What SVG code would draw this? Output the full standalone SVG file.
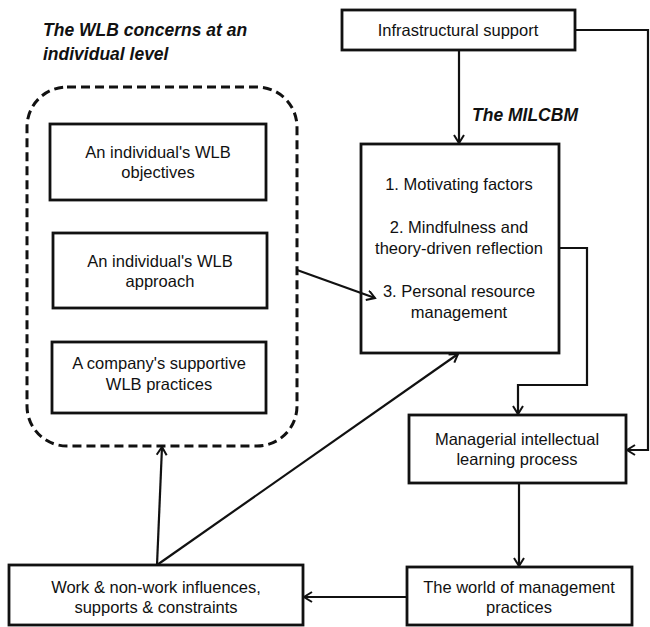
<svg xmlns="http://www.w3.org/2000/svg" width="650" height="627" viewBox="0 0 650 627">
<style>
.box{fill:#fff;stroke:#111;stroke-width:2.8}
.t{font-family:"Liberation Sans",Arial,sans-serif;font-size:16.5px;fill:#111;text-anchor:middle}
.title{font-family:"Liberation Sans",Arial,sans-serif;font-size:17.5px;font-weight:bold;font-style:italic;fill:#111}
.c{fill:none;stroke:#111;stroke-width:2.2}
</style>
<defs>
<marker id="arr" markerUnits="userSpaceOnUse" markerWidth="12" markerHeight="12" refX="9" refY="5.5" orient="auto">
<path d="M1,0.5 L9,5.5 L1,10.5" fill="none" stroke="#111" stroke-width="2"/>
</marker>
</defs>
<rect width="650" height="627" fill="#fff"/>
<text class="title" x="43" y="36">The WLB concerns at an</text>
<text class="title" x="43" y="60">individual level</text>
<text class="title" x="472" y="121">The MILCBM</text>
<g id="group-wlb">
<rect x="27" y="87" width="270" height="359" rx="40" ry="40" fill="none" stroke="#111" stroke-width="3" stroke-dasharray="9 5"/>
</g>
<g id="infra">
<rect class="box" x="342" y="10" width="233" height="40"/>
<text class="t" x="458" y="36">Infrastructural support</text>
</g>
<g id="milcbm">
<rect class="box" x="361" y="144" width="198" height="209"/>
<text class="t" x="459" y="190">1. Motivating factors</text>
<text class="t" x="459" y="233">2. Mindfulness and</text>
<text class="t" x="459" y="254">theory-driven reflection</text>
<text class="t" x="459" y="297">3. Personal resource</text>
<text class="t" x="459" y="318">management</text>
</g>
<g id="objectives">
<rect class="box" x="50" y="124" width="216" height="76"/>
<text class="t" x="158" y="158">An individual's WLB</text>
<text class="t" x="158" y="178">objectives</text>
</g>
<g id="approach">
<rect class="box" x="53" y="233" width="214" height="75"/>
<text class="t" x="160" y="267">An individual's WLB</text>
<text class="t" x="160" y="287">approach</text>
</g>
<g id="practices">
<rect class="box" x="52" y="342" width="214" height="71"/>
<text class="t" x="159" y="369">A company's supportive</text>
<text class="t" x="159" y="390">WLB practices</text>
</g>
<g id="managerial">
<rect class="box" x="409" y="415" width="217" height="68"/>
<text class="t" x="517" y="445">Managerial intellectual</text>
<text class="t" x="517" y="465">learning process</text>
</g>
<g id="world">
<rect class="box" x="407" y="567" width="225" height="58"/>
<text class="t" x="519" y="593">The world of management</text>
<text class="t" x="519" y="613">practices</text>
</g>
<g id="work">
<rect class="box" x="9" y="565" width="294" height="60"/>
<text class="t" x="156" y="593">Work &amp; non-work influences,</text>
<text class="t" x="156" y="613">supports &amp; constraints</text>
</g>
<g id="connectors">
<path class="c" d="M459,50 L459,143" marker-end="url(#arr)"/>
<path class="c" d="M575,30 L648,30 L648,450 L627,450" marker-end="url(#arr)"/>
<path class="c" d="M559,248 L587,248 L587,385 L518,385 L518,414" marker-end="url(#arr)"/>
<path class="c" d="M297,270 L375,298" marker-end="url(#arr)"/>
<path class="c" d="M519,483 L519,566" marker-end="url(#arr)"/>
<path class="c" d="M407,597 L304,597" marker-end="url(#arr)"/>
<path class="c" d="M157,565 L162,447" marker-end="url(#arr)"/>
<path class="c" d="M157,565 L458,354" marker-end="url(#arr)"/>
</g>
</svg>
